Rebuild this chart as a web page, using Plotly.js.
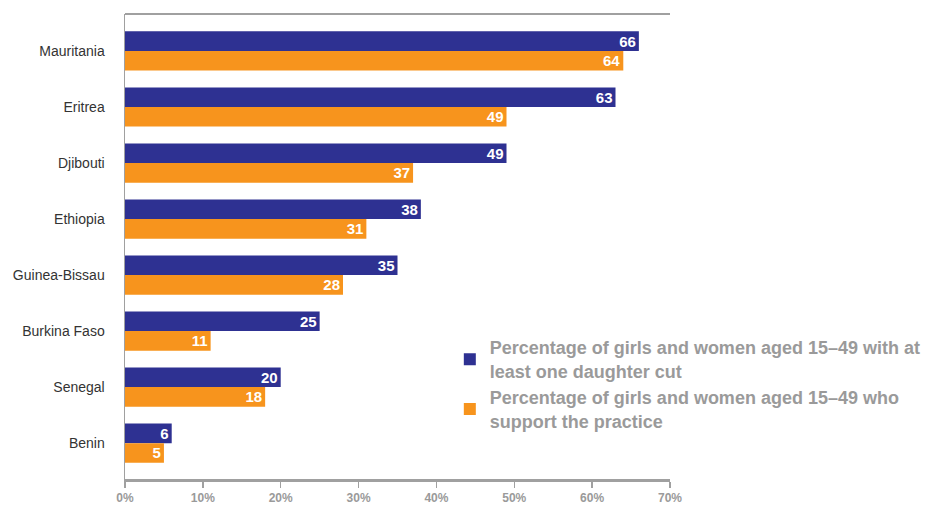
<!DOCTYPE html>
<html><head><meta charset="utf-8">
<script src="https://cdn.plot.ly/plotly-3.0.1.min.js"></script>
<style>html,body{margin:0;padding:0;background:#fff}#chart{width:937px;height:505px}</style>
</head><body><div id="chart"></div>
<script>
const countries = ["Mauritania","Eritrea","Djibouti","Ethiopia","Guinea-Bissau","Burkina Faso","Senegal","Benin"];
const daughterCut = [66,63,49,38,35,25,20,6];
const supportPractice = [64,49,37,31,28,11,18,5];
const xTickVals = [0,10,20,30,40,50,60,70];
const xTickText = ["0%","10%","20%","30%","40%","50%","60%","70%"];
const seriesNames = [
  "Percentage of girls and women aged 15–49 with at<br>least one daughter cut",
  "Percentage of girls and women aged 15–49 who<br>support the practice"
];

const labelFont = {family:"Liberation Sans, Arial, sans-serif", size:15, color:"#ffffff", weight:"bold"};
const traces = [
  {type:"bar", orientation:"h", y:countries, x:daughterCut, name:seriesNames[0],
   marker:{color:"#2e3192"}, text:daughterCut.map(String), textposition:"inside", textangle:0,
   insidetextanchor:"end", textfont:labelFont, constraintext:"none", hoverinfo:"x+y"},
  {type:"bar", orientation:"h", y:countries, x:supportPractice, name:seriesNames[1],
   marker:{color:"#f7941d"}, text:supportPractice.map(String), textposition:"inside", textangle:0,
   insidetextanchor:"end", textfont:labelFont, constraintext:"none", hoverinfo:"x+y"}
];

const layout = {
  width:937, height:505,
  margin:{l:125, r:267, t:14, b:26, pad:0, autoexpand:false},
  paper_bgcolor:"#ffffff", plot_bgcolor:"#ffffff",
  barmode:"group", bargap:0.3, bargroupgap:0,
  showlegend:true,
  legend:{x:0.596, y:0.322, xanchor:"left", yanchor:"top", bgcolor:"rgba(0,0,0,0)",
    font:{family:"Liberation Sans, Arial, sans-serif", size:18, color:"#9a9a9a", weight:"bold"},
    itemsizing:"constant", tracegroupgap:8},
  xaxis:{range:[0,70], tickvals:xTickVals, ticktext:xTickText, showgrid:false, zeroline:false,
    showline:true, linecolor:"#a0a0a0", linewidth:2.5, ticks:"outside", ticklen:6, tickwidth:1.5,
    tickcolor:"#a0a0a0", fixedrange:true,
    tickfont:{family:"Liberation Sans Narrow, Arial Narrow, sans-serif", size:12, color:"#9a9a9a", weight:"bold"}},
  yaxis:{type:"category", categoryorder:"array", categoryarray:countries, range:[7.64,-0.66],
    showgrid:false, zeroline:false, showline:true, linecolor:"#a0a0a0", linewidth:1.5,
    ticks:"", ticklabelstandoff:16, fixedrange:true,
    tickfont:{family:"Liberation Sans, Arial, sans-serif", size:14, color:"#333333"}},
  shapes:[{type:"line", xref:"paper", yref:"paper", x0:0, x1:1, y0:1, y1:1,
    line:{color:"#a0a0a0", width:2}}]
};
Plotly.newPlot("chart", traces, layout, {displayModeBar:false, staticPlot:true});
</script></body></html>
